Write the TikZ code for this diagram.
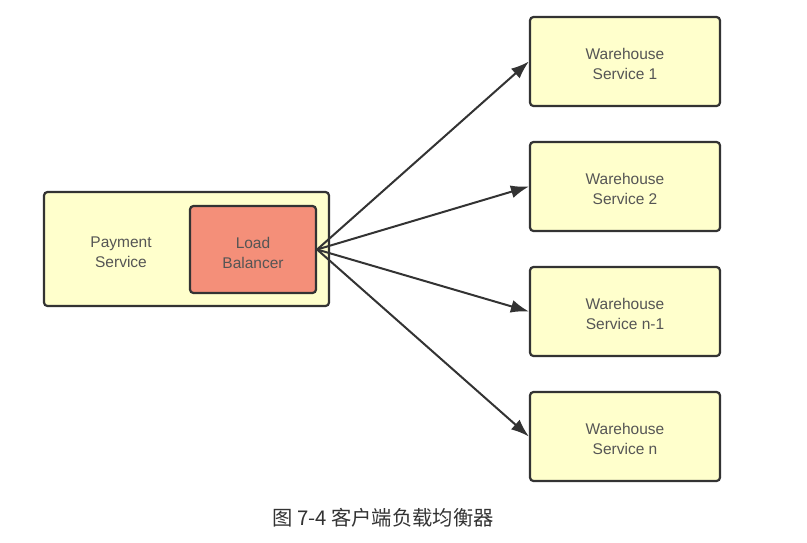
\documentclass[tikz,border=0pt]{standalone}
\usepackage{fontspec}
\setmainfont{Liberation Sans}
\newfontfamily\cjk{Noto Sans CJK SC}
\usetikzlibrary{arrows.meta}
\definecolor{boxfill}{HTML}{FFFFCC}
\definecolor{lbfill}{HTML}{F48F79}
\definecolor{edge}{HTML}{333333}
\definecolor{txt}{HTML}{555555}
\tikzset{
  lbl/.style={text=txt, font=\fontsize{15.5}{20}\selectfont, align=center, inner sep=0pt},
  box/.style={draw=edge, line width=2.2pt, rounded corners=3.5pt, fill=boxfill, inner sep=0pt},
  wbox/.style={box, minimum width=190pt, minimum height=89pt},
  conn/.style={draw=edge, line width=2pt, -{Latex[length=18pt,width=13pt]}},
}
\begin{document}
\begin{tikzpicture}[x=1pt,y=-1pt]
\useasboundingbox (0,0) rectangle (807,542);
\node[box, minimum width=285pt, minimum height=114pt] (pay) at (186.5,249) {};
\node[lbl] (paytxt) at (121,252.5) {Payment\\Service};
\node[box, fill=lbfill, minimum width=126pt, minimum height=87pt] (lb) at (253,249.5) {};
\node[lbl] (lbtxt) at (253,252.5) {Load\\Balancer};
\node[wbox] (w1) at (625,61.5) {};
\node[wbox] (w2) at (625,186.5) {};
\node[wbox] (w3) at (625,311.5) {};
\node[wbox] (w4) at (625,436.5) {};
\node[lbl] (t1) at (625,64) {Warehouse\\Service 1};
\node[lbl] (t2) at (625,189) {Warehouse\\Service 2};
\node[lbl] (t3) at (625,314) {Warehouse\\Service n-1};
\node[lbl] (t4) at (625,439) {Warehouse\\Service n};
\draw[conn] (lb.east) -- (w1.west);
\draw[conn] (lb.east) -- (w2.west);
\draw[conn] (lb.east) -- (w3.west);
\draw[conn] (lb.east) -- (w4.west);
\node[text=edge, font=\cjk\fontsize{20.3}{22}\selectfont] (cap) at (383,518) {图 7-4 客户端负载均衡器};
\end{tikzpicture}
\end{document}
